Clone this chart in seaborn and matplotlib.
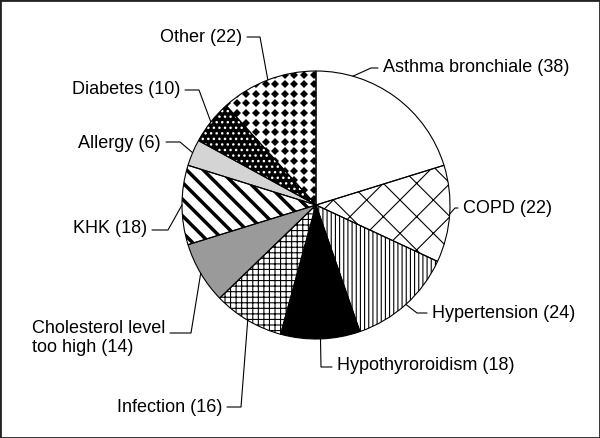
import matplotlib
matplotlib.use("Agg")
import matplotlib.pyplot as plt
import numpy as np
import seaborn as sns
from matplotlib.patches import Rectangle

# ── data ──────────────────────────────────────────────────────────────────────
labels = ["Asthma bronchiale (38)", "COPD (22)", "Hypertension (24)",
          "Hypothyroroidism (18)", "Infection (16)",
          "Cholesterol level\ntoo high (14)", "KHK (18)", "Allergy (6)",
          "Diabetes (10)", "Other (22)"]
counts = [38, 22, 24, 18, 16, 14, 18, 6, 10, 22]

# ── styles ────────────────────────────────────────────────────────────────────
face_colors = ["white", "white", "white", "black", "white",
               "#9a9a9a", "white", "#d4d4d4", "black", "white"]
hatch_colors = ["black", "black", "black", "black", "black",
                "black", "black", "black", "white", "black"]
hatches = [None, "x", "||||", None, "+++", None, "\\\\", None, "...", None]
hatch_widths = [1, 0.8, 0.8, 1, 0.8, 1, 2.5, 1, 1, 1]
diamond_fill = [False] * 9 + [True]   # wedges textured with a diamond grid

# ── layout (pixels in a 600x438 canvas) ──────────────────────────────────────
CX, CY, R = 316, 205, 134
# text anchor x, y, horizontal alignment, elbow x, elbow y, anchor frac in wedge
label_layout = [
    (383, 68, "left", 371, 68, 0.78),
    (463, 208, "left", 455, 208, 0.5),
    (432, 313, "left", 417, 313, 0.5),
    (337, 365, "left", 321, 367, 0.5),
    (222, 407, "right", 241, 407, 0.5),
    (165, 338, "right", 191, 333, 0.5),
    (147, 228, "right", 168, 230, 0.5),
    (161, 143, "right", 180, 142, 0.5),
    (180, 90, "right", 199, 90, 0.5),
    (242, 37, "right", 260, 37, 0.5),
]


def px(x, y):
    return (x - CX) / R, (CY - y) / R


sns.set_style("white")
plt.rcParams["font.family"] = ["Liberation Sans", "DejaVu Sans"]
plt.rcParams["hatch.linewidth"] = 0.8

fig = plt.figure(figsize=(6, 4.38), dpi=100)
ax = fig.add_axes([0, 0, 1, 1])

wedges, _ = ax.pie(counts, startangle=90, counterclock=False, radius=1,
                   colors=face_colors, wedgeprops=dict(linewidth=0))
for w, h, hc, hw in zip(wedges, hatches, hatch_colors, hatch_widths):
    w.set_edgecolor(hc)
    if h:
        w.set_hatch(h)
        if hasattr(w, "set_hatch_linewidth"):
            w.set_hatch_linewidth(hw)

# diamond texture (aligned grid of black diamonds), clipped to the wedge
step = 9.6 / R
gx, gy = np.meshgrid(np.arange(-1.2, 1.2, step) + step / 2,
                     np.arange(-1.2, 1.2, step) + step / 3)
for w, use in zip(wedges, diamond_fill):
    if use:
        tex, = ax.plot(gx.ravel(), gy.ravel(), linestyle="none", marker="D",
                       ms=4.0, mfc="black", mew=0, zorder=w.get_zorder())
        tex.set_clip_path(w)

# outlines on top
ax.pie(counts, startangle=90, counterclock=False, radius=1,
       wedgeprops=dict(fill=False, edgecolor="black", linewidth=0.8,
                       zorder=3))

# labels with elbow leader lines
for w, lab, (tx, ty, ha, ex, ey, frac) in zip(wedges, labels, label_layout):
    ang = np.deg2rad(w.theta1 + frac * (w.theta2 - w.theta1))
    edge = (np.cos(ang), np.sin(ang))
    side = 1 if ha == "left" else -1
    stub_x = tx - side * 5
    x0, y0 = px(stub_x, ey)
    x1, y1 = px(ex, ey)
    ax.plot([x0, x1, edge[0]], [y0, y1, edge[1]], color="black", lw=0.8)
    lx, ly = px(tx, ty)
    ax.text(lx, ly, lab, ha=ha, va="center", fontsize=13,
            multialignment="left", color="black")

ax.set_xlim(-CX / R, (600 - CX) / R)
ax.set_ylim(-(438 - CY) / R, CY / R)
ax.set_aspect("equal")
ax.axis("off")

fig.patches.append(Rectangle((0, 0), 1, 1, transform=fig.transFigure,
                             fill=False, edgecolor="#222222", linewidth=2))

fig.savefig("out.png", dpi=100)
